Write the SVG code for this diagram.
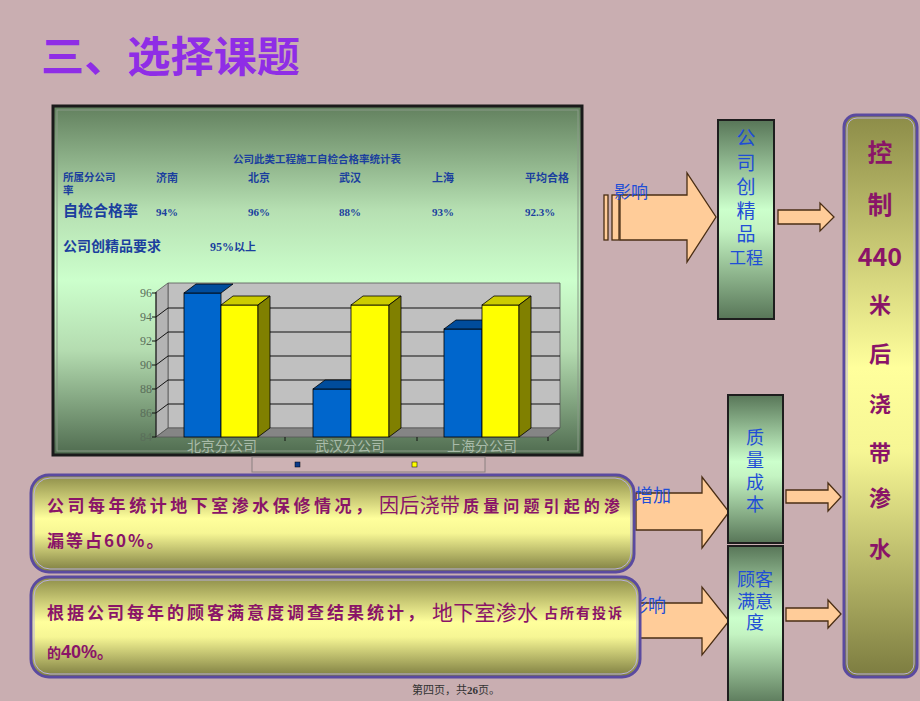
<svg xmlns="http://www.w3.org/2000/svg" width="920" height="701" viewBox="0 0 920 701">
<defs>
<linearGradient id="gChart" x1="0" y1="0" x2="0" y2="1">
<stop offset="0" stop-color="#62805e"/><stop offset="0.3" stop-color="#b6e0b2"/><stop offset="0.5" stop-color="#ccffcc"/><stop offset="0.7" stop-color="#b4dcb0"/><stop offset="1" stop-color="#4f6b4f"/>
</linearGradient>
<linearGradient id="gGreen" x1="0" y1="0" x2="0" y2="1">
<stop offset="0" stop-color="#587658"/><stop offset="0.45" stop-color="#ccffcc"/><stop offset="0.55" stop-color="#c4f4c2"/><stop offset="1" stop-color="#587658"/>
</linearGradient>
<linearGradient id="gYellow" x1="0" y1="0" x2="0" y2="1">
<stop offset="0" stop-color="#8c8c48"/><stop offset="0.45" stop-color="#ffff9c"/><stop offset="0.6" stop-color="#f6f694"/><stop offset="1" stop-color="#7c7c40"/>
</linearGradient>
<style>
.cn{font-family:"Noto Sans CJK SC","Liberation Sans",sans-serif;}
.tb{font-family:"Noto Sans CJK SC",sans-serif;font-weight:bold;fill:#1b3f9e;}
.num{font-family:"Liberation Serif","Noto Sans CJK SC",serif;font-weight:bold;fill:#1b3f9e;}
.blue{font-family:"Noto Sans CJK SC",sans-serif;fill:#1f4ed6;text-anchor:middle;}
.mag{font-family:"Noto Sans CJK SC",sans-serif;fill:#8a1468;font-weight:bold;}
.vt{font-family:"Noto Sans CJK SC","Liberation Sans",sans-serif;fill:#8a1468;font-weight:bold;text-anchor:middle;}
.arr{fill:#ffcc99;stroke:#4a2e14;stroke-width:1.3;}
.gbox{fill:url(#gGreen);stroke:#1e1e1e;stroke-width:2;}
.ybox{fill:url(#gYellow);stroke:#5a4aa0;stroke-width:3;}
.yin{fill:none;stroke:#b8b0e0;stroke-width:1;}
.bf{fill:#0066cc;stroke:#000;stroke-width:0.8;}
.bt{fill:#004c9c;stroke:#000;stroke-width:0.8;}
.yf{fill:#ffff00;stroke:#000;stroke-width:0.8;}
.yt{fill:#cccc00;stroke:#000;stroke-width:0.8;}
.ys{fill:#808000;stroke:#000;stroke-width:0.8;}
.grid{stroke:#111;stroke-width:1;fill:none;}
.ax{font-family:"Liberation Serif",serif;font-size:12px;fill:#5a6e5a;text-anchor:end;}
.cat{font-family:"Noto Sans CJK SC",sans-serif;font-size:14px;fill:#a9bba9;text-anchor:middle;}
</style>
</defs>
<rect width="920" height="701" fill="#c9aeb1"/>
<text x="41" y="72" class="cn" font-size="42" font-weight="bold" fill="#8f2de6" textLength="259" lengthAdjust="spacingAndGlyphs">三、选择课题</text>

<g id="chart">
<rect x="53" y="106" width="529" height="349" fill="url(#gChart)" stroke="#1a1a1a" stroke-width="3"/>
<rect x="57" y="110" width="521" height="341" fill="none" stroke="#8a9a88" stroke-width="1"/>
<text x="317" y="163" class="tb" text-anchor="middle" font-size="10.5">公司此类工程施工自检合格率统计表</text>
<text x="63" y="181" class="tb" font-size="10.5">所属分公司</text>
<text x="63" y="194" class="tb" font-size="10.5">率</text>
<text x="156" y="182" class="tb" font-size="11">济南</text>
<text x="248" y="182" class="tb" font-size="11">北京</text>
<text x="339" y="182" class="tb" font-size="11">武汉</text>
<text x="432" y="182" class="tb" font-size="11">上海</text>
<text x="525" y="182" class="tb" font-size="11">平均合格</text>
<text x="63" y="216" class="tb" font-size="15">自检合格率</text>
<text x="156" y="216" class="num" font-size="11">94%</text>
<text x="248" y="216" class="num" font-size="11">96%</text>
<text x="339" y="216" class="num" font-size="11">88%</text>
<text x="432" y="216" class="num" font-size="11">93%</text>
<text x="525" y="216" class="num" font-size="11">92.3%</text>
<text x="63" y="251" class="tb" font-size="14">公司创精品要求</text>
<text x="210" y="251" class="num" font-size="12">95%<tspan class="tb" font-size="11">以上</tspan></text>

<polygon points="168,283 560,283 560,428 168,428" fill="#c0c0c0" stroke="#555" stroke-width="0.8"/>
<polygon points="156,292 168,283 168,428 156,437" fill="#b4b4b4" stroke="#555" stroke-width="0.8"/>
<polygon points="156,437 168,428 560,428 548,437" fill="#858585" stroke="#555" stroke-width="0.8"/>
<path class="grid" d="M156,317 L168,308 L560,308 M156,341 L168,332 L560,332 M156,365 L168,356 L560,356 M156,389 L168,380 L560,380 M156,413 L168,404 L560,404"/>
<path class="grid" d="M156,292 L156,437 M152,293 L156,293 M152,317 L156,317 M152,341 L156,341 M152,365 L156,365 M152,389 L156,389 M152,413 L156,413 M152,437 L156,437 M285,437 L285,441 M417,437 L417,441 M548,437 L548,441"/>
<text x="152" y="297" class="ax">96</text>
<text x="152" y="321" class="ax">94</text>
<text x="152" y="345" class="ax">92</text>
<text x="152" y="369" class="ax">90</text>
<text x="152" y="393" class="ax">88</text>
<text x="152" y="417" class="ax">86</text>
<text x="152" y="441" class="ax">84</text>

<rect x="184" y="293" width="37" height="144" class="bf"/>
<polygon points="184,293 221,293 233,284 196,284" class="bt"/>
<rect x="221" y="305" width="37" height="132" class="yf"/>
<polygon points="221,305 258,305 270,296 233,296" class="yt"/>
<polygon points="258,305 270,296 270,428 258,437" class="ys"/>

<rect x="313" y="389" width="38" height="48" class="bf"/>
<polygon points="313,389 351,389 363,380 325,380" class="bt"/>
<rect x="351" y="305" width="38" height="132" class="yf"/>
<polygon points="351,305 389,305 401,296 363,296" class="yt"/>
<polygon points="389,305 401,296 401,428 389,437" class="ys"/>

<rect x="444" y="329" width="38" height="108" class="bf"/>
<polygon points="444,329 482,329 494,320 456,320" class="bt"/>
<rect x="482" y="305" width="37" height="132" class="yf"/>
<polygon points="482,305 519,305 531,296 494,296" class="yt"/>
<polygon points="519,305 531,296 531,428 519,437" class="ys"/>

<text x="222" y="451" class="cat">北京分公司</text>
<text x="350" y="451" class="cat">武汉分公司</text>
<text x="482" y="451" class="cat">上海分公司</text>
</g>

<g id="legend">
<rect x="252" y="457" width="233" height="15" fill="#cdb2b4" stroke="#8a8080" stroke-width="1"/>
<rect x="295" y="462" width="5" height="5" fill="#0a3a8a" stroke="#000" stroke-width="0.5"/>
<rect x="412" y="462" width="5" height="5" fill="#ffff00" stroke="#000" stroke-width="0.5"/>
</g>

<g id="connectors">
<rect x="604" y="195" width="4" height="45" class="arr"/>
<rect x="612" y="195" width="7" height="45" class="arr"/>
<polygon points="620,195 687,195 687,173 716,217 687,262 687,240 620,240" class="arr"/>
<polygon points="778,210 820,210 820,203 834,217 820,231 820,224 778,224" class="arr"/>
<polygon points="636,493 702,493 702,477 729,512 702,548 702,530 636,530" class="arr"/>
<polygon points="786,490 828,490 828,483 841,497 828,511 828,503 786,503" class="arr"/>
<polygon points="636,603 702,603 702,587 729,621 702,655 702,638 636,638" class="arr"/>
<polygon points="786,608 828,608 828,600 841,614 828,628 828,621 786,621" class="arr"/>
<text x="631" y="198" class="blue" font-size="17">影响</text>
<text x="653" y="502" class="blue" font-size="18">增加</text>
<text x="648" y="612" class="blue" font-size="18">影响</text>
</g>

<g id="box-jingpin">
<rect x="718" y="120" width="56" height="199" class="gbox"/>
<text x="746" y="145" class="blue" font-size="19">公</text>
<text x="746" y="170" class="blue" font-size="19">司</text>
<text x="746" y="194" class="blue" font-size="19">创</text>
<text x="746" y="218" class="blue" font-size="19">精</text>
<text x="746" y="241" class="blue" font-size="19">品</text>
<text x="746" y="264" class="blue" font-size="17">工程</text>
</g>

<g id="box-zhiliang">
<rect x="728" y="395" width="55" height="148" class="gbox"/>
<text x="755" y="444" class="blue" font-size="18">质</text>
<text x="755" y="467" class="blue" font-size="18">量</text>
<text x="755" y="489" class="blue" font-size="18">成</text>
<text x="755" y="511" class="blue" font-size="18">本</text>
</g>

<g id="box-guke">
<rect x="728" y="546" width="55" height="160" class="gbox"/>
<text x="755" y="586" class="blue" font-size="18">顾客</text>
<text x="755" y="608" class="blue" font-size="18">满意</text>
<text x="755" y="629" class="blue" font-size="18">度</text>
</g>

<g id="box-kongzhi">
<rect x="844" y="115" width="73" height="562" rx="12" class="ybox"/>
<rect x="847" y="118" width="67" height="556" rx="10" class="yin"/>
<text x="880" y="162" class="vt" font-size="25">控</text>
<text x="880" y="214" class="vt" font-size="25">制</text>
<text x="880" y="266" class="vt" font-size="25" font-family="Liberation Sans,sans-serif">440</text>
<text x="880" y="313" class="vt" font-size="22">米</text>
<text x="880" y="362" class="vt" font-size="22">后</text>
<text x="880" y="412" class="vt" font-size="22">浇</text>
<text x="880" y="461" class="vt" font-size="22">带</text>
<text x="880" y="506" class="vt" font-size="22">渗</text>
<text x="880" y="557" class="vt" font-size="22">水</text>
</g>

<g id="box-text1">
<rect x="31" y="475" width="603" height="97" rx="18" class="ybox"/>
<rect x="34" y="478" width="597" height="91" rx="16" class="yin"/>
<text x="47" y="512" class="mag" font-size="17" textLength="325" lengthAdjust="spacing">公司每年统计地下室渗水保修情况，</text>
<text x="379" y="513" class="cn" fill="#8a1468" font-size="20" textLength="81" lengthAdjust="spacing">因后浇带</text>
<text x="463" y="512" class="mag" font-size="16" textLength="157" lengthAdjust="spacing">质量问题引起的渗</text>
<text x="47" y="547" class="mag" font-size="17" letter-spacing="2">漏等占60%。</text>
</g>

<g id="box-text2">
<rect x="31" y="577" width="609" height="100" rx="18" class="ybox"/>
<rect x="34" y="580" width="603" height="94" rx="16" class="yin"/>
<text x="47" y="619" class="mag" font-size="17" textLength="377" lengthAdjust="spacing">根据公司每年的顾客满意度调查结果统计，</text>
<text x="432" y="620" class="cn" fill="#8a1468" font-size="21" textLength="106" lengthAdjust="spacing">地下室渗水</text>
<text x="544" y="618" class="mag" font-size="14" textLength="78" lengthAdjust="spacing">占所有投诉</text>
<text x="47" y="658" class="mag" font-size="14">的<tspan font-family="Liberation Sans,sans-serif" font-size="18">40%</tspan><tspan font-size="16">。</tspan></text>
</g>

<text x="456" y="694" font-family="Liberation Serif,Noto Sans CJK SC,serif" font-size="11" fill="#333" text-anchor="middle">第四页，共<tspan font-weight="bold">26</tspan>页。</text>
</svg>
